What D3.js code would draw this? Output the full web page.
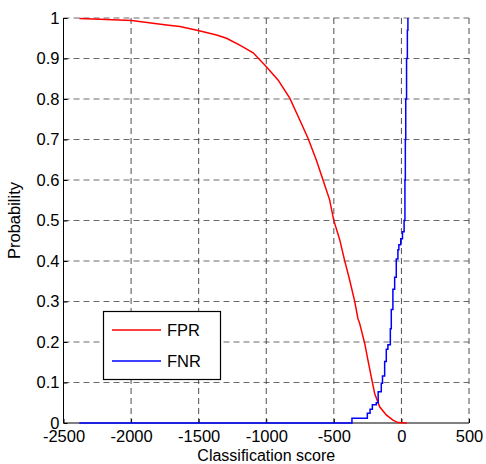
<!DOCTYPE html>
<html>
<head>
<meta charset="utf-8">
<script src="https://cdn.jsdelivr.net/npm/d3@7"></script>
<style>
  body { margin: 0; background: #fff; }
  text { font-family: "Liberation Sans", Arial, sans-serif; }
</style>
</head>
<body>
<div id="my_dataviz"></div>
<script>
// data
const xTicks = [-2500, -2000, -1500, -1000, -500, 0, 500];
const yTicks = [0, 0.1, 0.2, 0.3, 0.4, 0.5, 0.6, 0.7, 0.8, 0.9, 1];

const fprScore = [-2383, -2230, -1996, -1910, -1738, -1639, -1504, -1368, -1294, -1196, -1097, -1011, -913, -826, -752, -691, -629, -580, -531, -501, -456, -420, -383, -346, -322, -309, -272, -248, -223, -198, -161, -112, -63, -26, 40];
const fprProb  = [0.999, 0.997, 0.994, 0.990, 0.983, 0.979, 0.969, 0.958, 0.950, 0.933, 0.914, 0.884, 0.847, 0.802, 0.748, 0.703, 0.649, 0.600, 0.551, 0.501, 0.452, 0.401, 0.353, 0.301, 0.258, 0.246, 0.197, 0.156, 0.114, 0.073, 0.040, 0.020, 0.007, 0.001, 0];

const fnrScore = [-2383, -366, -252, -232, -215, -186, -172, -149, -140, -124, -112, -100, -82, -75, -63, -50, -38, -26, -19, -5, 8, 20, 26, 29, 32, 38, 44, 48];
const fnrProb  = [0, 0.012, 0.024, 0.034, 0.045, 0.05, 0.077, 0.098, 0.116, 0.152, 0.182, 0.193, 0.233, 0.28, 0.33, 0.36, 0.405, 0.428, 0.44, 0.455, 0.472, 0.50, 0.6, 0.7, 0.8, 0.9, 0.97, 1.0];

const margin = {top: 18, right: 17, bottom: 41, left: 63.5},
    width = 486 - margin.left - margin.right,
    height = 464 - margin.top - margin.bottom;

const svg = d3.select("#my_dataviz")
  .append("svg")
    .attr("width", 486)
    .attr("height", 464)
  .append("g")
    .attr("transform", `translate(${margin.left}, ${margin.top})`);

const x = d3.scaleLinear().domain([-2500, 500]).range([0, width]);
const y = d3.scaleLinear().domain([0, 1]).range([height, 0]);

// dashed grid
svg.append("g")
  .selectAll("line")
  .data(xTicks.slice(1))
  .enter()
  .append("line")
    .attr("x1", d => x(d)).attr("x2", d => x(d))
    .attr("y1", 0).attr("y2", height)
    .attr("stroke", "#222")
    .attr("stroke-width", 0.8)
    .attr("stroke-dasharray", "6,4");

svg.append("g")
  .selectAll("line")
  .data(yTicks.slice(1))
  .enter()
  .append("line")
    .attr("x1", 0).attr("x2", width)
    .attr("y1", d => y(d)).attr("y2", d => y(d))
    .attr("stroke", "#444")
    .attr("stroke-width", 0.8)
    .attr("stroke-dasharray", "6,4");

// axes (ticks inside, like matlab)
const xAxis = svg.append("g")
  .attr("transform", `translate(0, ${height})`)
  .call(d3.axisBottom(x).tickValues(xTicks).tickSize(-4).tickPadding(7).tickFormat(d => String(d)));
const yAxis = svg.append("g")
  .call(d3.axisLeft(y).tickValues(yTicks).tickSize(-4).tickPadding(4).tickFormat(d => d === 0 || d === 1 ? String(d) : d3.format(".1f")(d)));

[xAxis, yAxis].forEach(a => {
  a.select(".domain").attr("stroke", "#000");
  a.selectAll(".tick line").attr("stroke", "#000");
  a.selectAll("text").attr("fill", "#000").style("font-size", "16.5px");
});
xAxis.select(".domain").attr("d", `M0,0H${width}`);
yAxis.select(".domain").attr("d", `M0,${height}V0`);

// curves
const line = d3.line().x(d => x(d[0])).y(d => y(d[1]));

svg.append("path")
  .datum(d3.zip(fprScore, fprProb))
  .attr("fill", "none")
  .attr("stroke", "#ff0000")
  .attr("stroke-width", 1.5)
  .attr("d", line);

svg.append("path")
  .datum(d3.zip(fnrScore, fnrProb))
  .attr("fill", "none")
  .attr("stroke", "#0000ff")
  .attr("stroke-width", 1.5)
  .attr("d", line.curve(d3.curveStepAfter));

// axis labels
svg.append("text")
  .attr("x", width / 2)
  .attr("y", height + 37.5)
  .attr("text-anchor", "middle")
  .style("font-size", "16px")
  .text("Classification score");

svg.append("text")
  .attr("transform", `translate(${-44}, ${height / 2}) rotate(-90)`)
  .attr("text-anchor", "middle")
  .style("font-size", "16.5px")
  .text("Probability");

// legend
const legend = svg.append("g").attr("transform", `translate(${103 - margin.left}, ${311 - margin.top})`);
legend.append("rect")
  .attr("x", 0.5).attr("y", 0.5)
  .attr("width", 117).attr("height", 68)
  .attr("fill", "#fff")
  .attr("stroke", "#000")
  .attr("stroke-width", 1.2);

const legendItems = [["FPR", "#ff0000"], ["FNR", "#0000ff"]];
legendItems.forEach((d, i) => {
  legend.append("line")
    .attr("x1", 9).attr("x2", 58)
    .attr("y1", 19 + i * 31).attr("y2", 19 + i * 31)
    .attr("stroke", d[1])
    .attr("stroke-width", 1.5);
  legend.append("text")
    .attr("x", 64)
    .attr("y", 25 + i * 31)
    .style("font-size", "16.5px")
    .text(d[0]);
});
</script>
</body>
</html>
